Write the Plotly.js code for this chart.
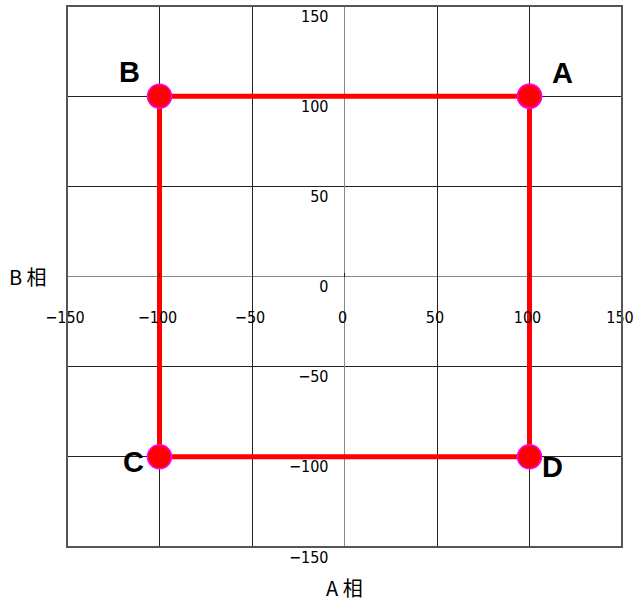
<!DOCTYPE html>
<html>
<head>
<meta charset="utf-8">
<script src="https://cdn.plot.ly/plotly-3.0.1.min.js"></script>
<style>
  html, body { margin: 0; padding: 0; background: #fff; }
  #chart { width: 635px; height: 605px; }
</style>
</head>
<body>
<div id="chart"></div>
<script>
// phase points, closed back to A
var pointNames = ['A', 'B', 'C', 'D'];
var phaseA = [100, -100, -100, 100, 100];
var phaseB = [100, 100, -100, -100, 100];
var tickVals = [-150, -100, -50, 0, 50, 100, 150];

// where each letter sits relative to its point (px)
var labelDx = [33, -30, -26, 23];
var labelDy = [23, 24, -5, -10];

var square = {
  x: phaseA,
  y: phaseB,
  mode: 'lines+markers',
  line: { color: 'rgb(255,0,0)', width: 5 },
  marker: {
    size: 24,
    opacity: 1,
    color: 'rgb(255,0,0)',
    line: { color: 'rgb(255,0,255)', width: 1.5 }
  },
  cliponaxis: false,
  hoverinfo: 'x+y',
  showlegend: false
};

var tickFont = { family: 'Liberation Sans Narrow, DejaVu Sans Condensed, Arial, sans-serif', size: 16, color: '#000' };
var titleFont = { family: 'Noto Sans CJK JP, sans-serif', size: 20, color: '#000' };
var letterFont = { family: 'Liberation Sans, Arial, sans-serif', size: 29, color: '#000', weight: 'bold' };

var annotations = [
  { text: 'A 相', xref: 'paper', yref: 'paper', x: 0.5, y: -0.075,
    xanchor: 'center', yanchor: 'middle', showarrow: false, font: titleFont },
  { text: 'B 相', xref: 'paper', yref: 'paper', x: -0.108, y: 0.5,
    xanchor: 'left', yanchor: 'middle', showarrow: false, font: titleFont }
];
pointNames.forEach(function (name, i) {
  annotations.push({
    text: '<b>' + name + '</b>', x: phaseA[i], y: phaseB[i],
    xshift: labelDx[i], yshift: labelDy[i],
    xanchor: 'center', yanchor: 'middle', showarrow: false, font: letterFont
  });
});

var layout = {
  width: 635,
  height: 605,
  margin: { l: 67, r: 13, t: 6, b: 58 },
  paper_bgcolor: '#fff',
  plot_bgcolor: '#fff',
  showlegend: false,
  xaxis: {
    range: [-150, 150],
    tickvals: tickVals,
    anchor: 'free',
    position: 0.5,
    showgrid: true,
    gridcolor: '#222',
    gridwidth: 1,
    zeroline: true,
    zerolinecolor: '#888',
    zerolinewidth: 1,
    showline: false,
    ticks: 'inside',
    ticklen: 4,
    tickcolor: '#222',
    ticklabelstandoff: 29,
    ticklabelshift: -2,
    ticklabeloverflow: 'allow',
    tickfont: tickFont
  },
  yaxis: {
    range: [-150, 150],
    tickvals: tickVals,
    anchor: 'free',
    position: 0.5,
    showgrid: true,
    gridcolor: '#222',
    gridwidth: 1,
    zeroline: true,
    zerolinecolor: '#888',
    zerolinewidth: 1,
    showline: false,
    ticks: '',
    ticklabelstandoff: 16,
    ticklabelshift: 10,
    ticklabeloverflow: 'allow',
    tickfont: tickFont
  },
  shapes: [{
    type: 'rect', xref: 'paper', yref: 'paper',
    x0: 0, y0: 0, x1: 1, y1: 1,
    line: { color: '#555', width: 2 }
  }],
  annotations: annotations
};

Plotly.newPlot('chart', [square], layout, { displayModeBar: false, staticPlot: true });
</script>
</body>
</html>
